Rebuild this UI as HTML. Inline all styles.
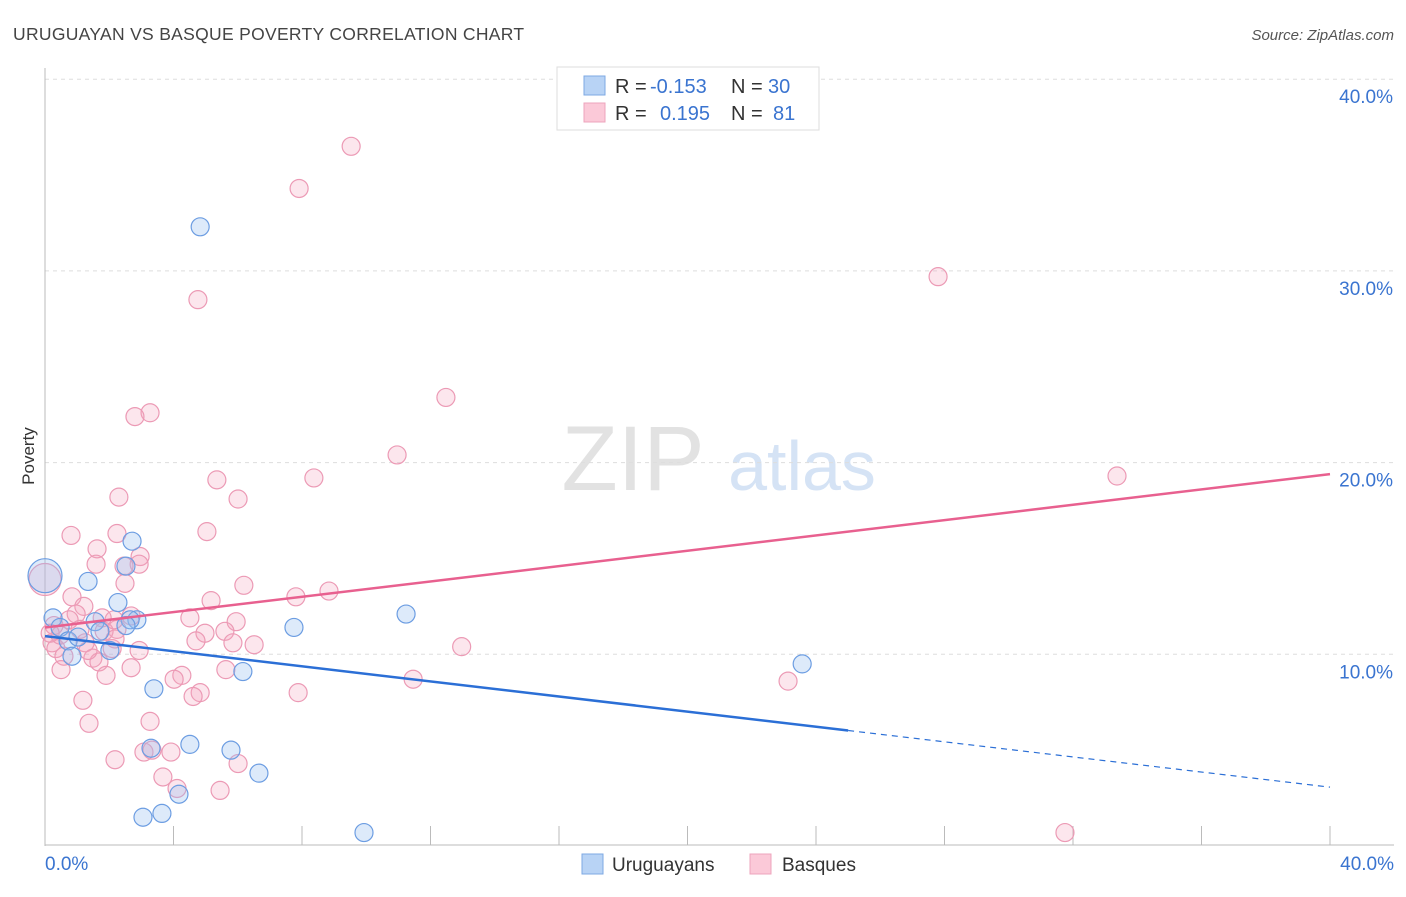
<!DOCTYPE html>
<html><head><meta charset="utf-8"><style>
body{margin:0;background:#fff;font-family:"Liberation Sans",sans-serif;}
svg text{font-family:"Liberation Sans",sans-serif;}
</style></head><body>
<svg id="chart" width="1406" height="892" viewBox="0 0 1406 892" xmlns="http://www.w3.org/2000/svg">
<text x="13" y="40" font-size="17.5" fill="#444" letter-spacing="0.3">URUGUAYAN VS BASQUE POVERTY CORRELATION CHART</text>
<text x="1394" y="40" font-size="15" fill="#555" font-style="italic" text-anchor="end">Source: ZipAtlas.com</text>
<g>
<text x="633" y="490" font-size="92" fill="#e2e2e2" font-family="Liberation Serif" text-anchor="middle">ZIP</text>
<text x="802" y="490" font-size="70" fill="#d5e3f5" text-anchor="middle">atlas</text>
</g>
<g id="grid"></g>
<g id="axes"></g>
<g id="points"></g>
<g id="lines"></g>
<text x="34" y="456" font-size="17" fill="#333" text-anchor="middle" transform="rotate(-90 34 456)">Poverty</text>
<g>
<rect x="557" y="67" width="262" height="63" fill="#fff" stroke="#ddd"/>
<rect x="584" y="76" width="21" height="19" fill="#b8d3f5" stroke="#7ea8e3"/>
<rect x="584" y="103" width="21" height="19" fill="#fbc9d8" stroke="#eea4bc"/>
<text x="615" y="93" font-size="20" fill="#333">R =</text>
<text x="650" y="93" font-size="20" fill="#3a74d0">-0.153</text>
<text x="731" y="93" font-size="20" fill="#333">N =</text>
<text x="768" y="93" font-size="20" fill="#3a74d0">30</text>
<text x="615" y="120" font-size="20" fill="#333">R =</text>
<text x="660" y="120" font-size="20" fill="#3a74d0">0.195</text>
<text x="731" y="120" font-size="20" fill="#333">N =</text>
<text x="773" y="120" font-size="20" fill="#3a74d0">81</text>
</g>
<g>
<rect x="582" y="854" width="21" height="20" fill="#b8d3f5" stroke="#7ea8e3"/>
<text x="612" y="871" font-size="19" fill="#333">Uruguayans</text>
<rect x="750" y="854" width="21" height="20" fill="#fbc9d8" stroke="#eea4bc"/>
<text x="782" y="871" font-size="19" fill="#333">Basques</text>
</g>
</svg>
<script>
const yTicks=[10,20,30,40];
const yTickLabels=["10.0%","20.0%","30.0%","40.0%"];
const xTickLabels=["0.0%","40.0%"];
const uruX=[4.83,0,1.34,2.71,2.52,2.27,2.86,0.25,0.47,1.56,1.71,0.72,1.03,2.02,0.84,7.75,11.24,6.16,3.39,23.57,4.51,3.30,5.79,6.66,4.17,3.64,3.05,9.93,2.65,2.52];
const uruY=[32.3,14.1,13.8,15.9,14.6,12.7,11.8,11.9,11.4,11.7,11.2,10.7,10.9,10.2,9.9,11.4,12.1,9.1,8.2,9.5,5.3,5.1,5.0,3.8,2.7,1.7,1.5,0.7,11.8,11.5];
const basX=[9.53,7.91,4.76,27.80,12.48,3.27,2.80,10.96,33.37,8.37,5.35,2.30,6.01,5.04,0.81,2.24,1.62,2.96,1.59,2.93,2.46,2.49,6.19,8.84,0,7.81,0.84,5.17,1.21,0.97,2.68,4.51,5.95,0.28,2.24,1.84,5.60,4.98,12.97,0.22,1.25,4.70,5.85,6.51,2.09,0.34,0.59,1.49,1.68,2.68,0.50,5.63,4.26,1.90,4.02,11.46,23.13,4.83,7.88,4.61,1.18,3.27,1.37,3.08,3.33,3.92,2.18,6.01,3.67,4.11,5.45,31.75,2.15,0.75,1.09,1.78,0.47,2.93,2.18,0.16,1.34];
const basY=[36.5,34.3,28.5,29.7,23.4,22.6,22.4,20.4,19.3,19.2,19.1,18.2,18.1,16.4,16.2,16.3,15.5,15.1,14.7,14.7,14.6,13.7,13.6,13.3,13.9,13.0,13.0,12.8,12.5,12.1,12.0,11.9,11.7,11.5,11.3,11.2,11.2,11.1,10.4,10.6,10.6,10.7,10.6,10.5,10.3,10.3,9.9,9.8,9.6,9.3,9.2,9.2,8.9,8.9,8.7,8.7,8.6,8.0,8.0,7.8,7.6,6.5,6.4,4.9,5.0,4.9,4.5,4.3,3.6,3.0,2.9,0.7,11.8,11.8,11.3,11.9,11.0,10.2,10.8,11.1,10.2];
const uruTrend=[10.95,-0.197];
const basTrend=[11.4,0.2];
const uruSolidEnd=25;
const NS="http://www.w3.org/2000/svg";
const sx=v=>45+v*(1285/40);
const sy=v=>846-v*19.17;
function mk(t,a,p){const e=document.createElementNS(NS,t);for(const k in a)e.setAttribute(k,a[k]);document.getElementById(p).appendChild(e);return e;}
yTicks.forEach((t,i)=>{
  const g=mk('line',{x1:45,x2:1394,y1:sy(t),y2:sy(t),stroke:'#ddd','stroke-dasharray':'4,4'},'grid');
  
  
  const l=mk('text',{x:1393,y:sy(t)+24,'font-size':19,fill:'#3a74d0','text-anchor':'end'},'axes');
  l.textContent=yTickLabels[i];
  
  
});
mk('line',{x1:45,x2:45,y1:68,y2:846,stroke:'#bbb'},'axes');
mk('line',{x1:45,x2:1394,y1:845,y2:845,stroke:'#bbb'},'axes');
for(let i=1;i<=10;i++){const t=mk('line',{x1:sx(i*4),x2:sx(i*4),y1:826,y2:845,stroke:'#bbb'},'axes');

}
const xl0=mk('text',{x:45,y:870,'font-size':19,fill:'#3a74d0'},'axes');xl0.textContent=xTickLabels[0];


const xl1=mk('text',{x:1394,y:870,'font-size':19,fill:'#3a74d0','text-anchor':'end'},'axes');xl1.textContent=xTickLabels[1];


basX.forEach((x,i)=>{const c=mk('circle',{cx:sx(x),cy:sy(basY[i]),r:x===0?16:9,fill:'rgba(245,165,192,0.28)',stroke:'#ec9ab5','stroke-width':1.2},'points');

});
uruX.forEach((x,i)=>{const c=mk('circle',{cx:sx(x),cy:sy(uruY[i]),r:x===0?17:9,fill:'rgba(150,190,240,0.32)',stroke:'#6c9de2','stroke-width':1.2},'points');

});
const bl=mk('line',{x1:sx(0),y1:sy(basTrend[0]),x2:sx(40),y2:sy(basTrend[0]+basTrend[1]*40),stroke:'#e8608f','stroke-width':2.5},'lines');


const ul=mk('line',{x1:sx(0),y1:sy(uruTrend[0]),x2:sx(uruSolidEnd),y2:sy(uruTrend[0]+uruTrend[1]*uruSolidEnd),stroke:'#2b6fd6','stroke-width':2.5},'lines');


const ud=mk('line',{x1:sx(uruSolidEnd),y1:sy(uruTrend[0]+uruTrend[1]*uruSolidEnd),x2:sx(40),y2:sy(uruTrend[0]+uruTrend[1]*40),stroke:'#2b6fd6','stroke-width':1.2,'stroke-dasharray':'6,5'},'lines');


</script>
</body></html>
